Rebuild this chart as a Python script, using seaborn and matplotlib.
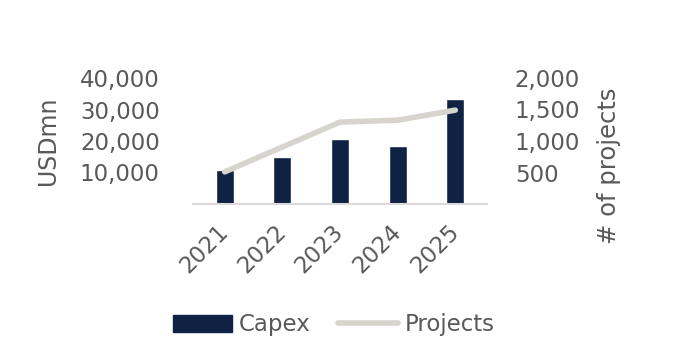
import matplotlib
matplotlib.use("Agg")
import matplotlib.pyplot as plt
import matplotlib.transforms as mtransforms
import seaborn as sns
import pandas as pd
from matplotlib.patches import Patch
from matplotlib.lines import Line2D

years = ["2021", "2022", "2023", "2024", "2025"]
capex = [10800, 15000, 20500, 18500, 33200]
projects = [510, 905, 1300, 1330, 1490]
left_ticks = [10000, 20000, 30000, 40000]
right_ticks = [500, 1000, 1500, 2000]

sns.set_theme(style="white")
plt.rcParams['font.family'] = ['DejaVu Sans']

bar_color = "#0F2244"
line_color = "#D7D4CE"
text_color = "#595959"
fs = 16.5

df = pd.DataFrame({"year": years, "capex": capex, "projects": projects})

fig = plt.figure(figsize=(6.81, 3.6), dpi=100)
ax = fig.add_axes([193/681, 1-204/360, (487-193)/681, (204-78)/360])
sns.barplot(data=df, x="year", y="capex", color=bar_color, width=0.31, ax=ax, saturation=1)
ax.set_ylim(0, 40000)
ax.set_yticks(left_ticks)
ax.set_yticklabels([f"{v:,}" for v in left_ticks])
ax.set_xlabel("")
ax.set_ylabel("USDmn", fontsize=17, color=text_color, labelpad=14)
ax.tick_params(axis="y", labelsize=fs, colors=text_color, length=0, pad=24)
ax.tick_params(axis="x", labelsize=fs, colors=text_color, length=0, pad=12)
offset = mtransforms.ScaledTranslation(-8/100, 0, fig.dpi_scale_trans)
for lbl in ax.get_xticklabels():
    lbl.set_rotation(45)
    lbl.set_ha("right")
    lbl.set_rotation_mode("anchor")
    lbl.set_transform(lbl.get_transform() + offset)
for s in ["top", "right", "left"]:
    ax.spines[s].set_visible(False)
ax.spines["bottom"].set_color("#D9D9D9")
ax.spines["bottom"].set_linewidth(1.5)

ax2 = ax.twinx()
sns.lineplot(x=list(range(len(years))), y=projects, color=line_color, linewidth=4, ax=ax2,
             solid_capstyle="round")
ax2.set_ylim(0, 2000)
ax2.set_yticks(right_ticks)
ax2.set_yticklabels([f"{v:,}" for v in right_ticks])
ax2.set_ylabel("# of projects", fontsize=17.5, color=text_color, labelpad=12)
ax2.yaxis.label.set_y(0.30)
ax2.tick_params(axis="y", labelsize=fs, colors=text_color, length=0, pad=20)
for s in ["top", "right", "left", "bottom"]:
    ax2.spines[s].set_visible(False)
ax.set_xlim(-0.55, 4.55)

handles = [Patch(facecolor=bar_color, edgecolor=bar_color),
           Line2D([0], [0], color=line_color, linewidth=4, solid_capstyle="round")]
fig.legend(handles, ["Capex", "Projects"], loc="center", bbox_to_anchor=(0.49, 1-325/360),
           ncol=2, frameon=False, fontsize=fs, handlelength=2.6, handletextpad=0.3,
           columnspacing=1.2, labelcolor=text_color)

fig.savefig("out.png", dpi=100, facecolor="white")
